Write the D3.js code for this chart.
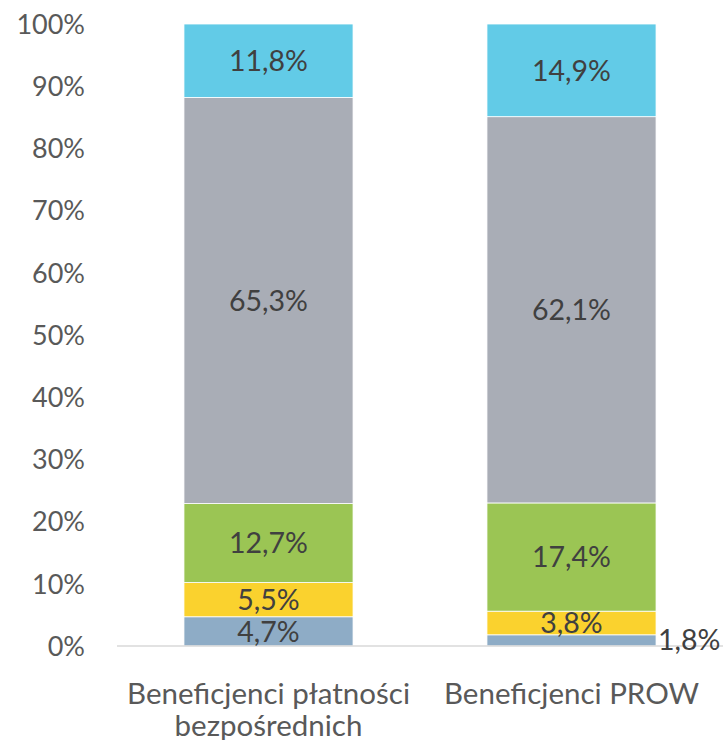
<!DOCTYPE html>
<html>
<head>
<meta charset="utf-8">
<script src="https://cdn.jsdelivr.net/npm/d3@7"></script>
<style>
  body { margin: 0; background: #fff; }
  svg { display: block; font-family: Lato, "Open Sans", sans-serif; }
</style>
</head>
<body>
<div id="chart"></div>
<script>
// categories and stacked series (shares in %)
const categories = ['Beneficjenci płatności bezpośrednich', 'Beneficjenci PROW'];
const categoryLines = [['Beneficjenci płatności', 'bezpośrednich'], ['Beneficjenci PROW']];
const seriesNames = ['s1', 's2', 's3', 's4', 's5'];
const seriesColors = ['#8eacc6', '#fad22e', '#9bc554', '#a9adb6', '#62cbe7'];
const values1 = [4.7, 5.5, 12.7, 65.3, 11.8];
const values2 = [1.8, 3.8, 17.4, 62.1, 14.9];
const yTicks = [0, 10, 20, 30, 40, 50, 60, 70, 80, 90, 100];

const width = 723, height = 740;
const svg = d3.select('#chart').append('svg')
  .attr('width', width)
  .attr('height', height);

const x = d3.scaleBand()
  .domain(categories)
  .range([117, 723])
  .paddingInner(0.442)
  .paddingOuter(0.221);

const y = d3.scaleLinear()
  .domain([0, 100])
  .range([646, 24]);

// build stack rows
const rows = categories.map((c, i) => {
  const vals = i === 0 ? values1 : values2;
  const row = { cat: c };
  seriesNames.forEach((s, j) => row[s] = vals[j]);
  return row;
});
const stacked = d3.stack().keys(seriesNames)(rows);

// y tick labels
svg.append('g')
  .selectAll('text')
  .data(yTicks)
  .join('text')
  .attr('x', 85)
  .attr('y', d => y(d))
  .attr('dy', '0.36em')
  .attr('text-anchor', 'end')
  .attr('font-size', 27)
  .attr('fill', '#595959')
  .text(d => d + '%');

// bars
stacked.forEach((layer, j) => {
  svg.append('g')
    .selectAll('rect')
    .data(layer)
    .join('rect')
    .attr('x', d => x(d.data.cat))
    .attr('y', d => y(d[1]))
    .attr('width', x.bandwidth())
    .attr('height', d => y(d[0]) - y(d[1]))
    .attr('fill', seriesColors[j])
    .attr('stroke', '#fff')
    .attr('stroke-width', 0.8);
});

// baseline
svg.append('line')
  .attr('x1', 117).attr('x2', 723)
  .attr('y1', y(0)).attr('y2', y(0))
  .attr('stroke', '#d9d9d9')
  .attr('stroke-width', 1.5);

// value labels
const fmt = v => v.toFixed(1).replace('.', ',') + '%';
stacked.forEach(layer => {
  layer.forEach(d => {
    const v = d[1] - d[0];
    const small = v < 3;
    svg.append('text')
      .attr('x', small ? x(d.data.cat) + x.bandwidth() + 2 : x(d.data.cat) + x.bandwidth() / 2)
      .attr('y', small ? y(d[0]) - 6 : y((d[0] + d[1]) / 2))
      .attr('dy', '0.36em')
      .attr('text-anchor', small ? 'start' : 'middle')
      .attr('font-size', 28.5)
      .attr('fill', '#404040')
      .text(fmt(v));
  });
});

// category labels
categories.forEach((c, i) => {
  const t = svg.append('text')
    .attr('text-anchor', 'middle')
    .attr('font-size', 29.5)
    .attr('fill', '#595959');
  categoryLines[i].forEach((line, k) => {
    t.append('tspan')
      .attr('x', x(c) + x.bandwidth() / 2)
      .attr('y', 704 + k * 32)
      .text(line);
  });
});
</script>
</body>
</html>
